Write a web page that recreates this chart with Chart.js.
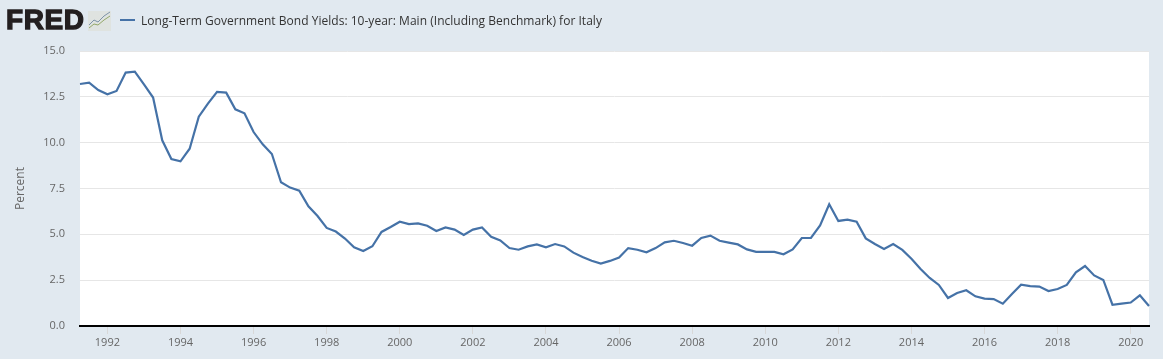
<!DOCTYPE html>
<html>
<head>
<meta charset="utf-8">
<title>Long-Term Government Bond Yields: Italy</title>
<script src="https://cdn.jsdelivr.net/npm/chart.js@4"></script>
<style>
  html, body { margin: 0; padding: 0; background: #e1e9f0; overflow: hidden; }
  #wrap { position: relative; width: 1163px; height: 359px; }
  #logo { position: absolute; left: 6px; top: 5px; font: bold 28px "Liberation Sans", sans-serif; color: #231f20;
          -webkit-text-stroke: 1.3px #231f20; letter-spacing: 0.6px; line-height: 30px; }
  #icon { position: absolute; left: 88px; top: 11px; }
  #swatch { position: absolute; left: 120px; top: 19px; width: 15px; height: 2px; background: #4572a7; }
  #title { position: absolute; left: 141px; top: 12px; font: 12px "Open Sans", sans-serif; letter-spacing: 0.025px; color: #333; line-height: 17px; white-space: nowrap; }
</style>
</head>
<body>
<div id="wrap">
  <div id="logo">FRED</div>
  <svg id="icon" width="23" height="20" viewBox="0 0 23 20">
    <rect width="23" height="20" fill="#dfe3e0"/>
    <polyline points="1,14 6,9 10,11 16,5 22,1" fill="none" stroke="#7d93a8" stroke-width="1"/>
    <polyline points="1,17 6,13 10,14 16,9 22,5" fill="none" stroke="#94a86a" stroke-width="1"/>
  </svg>
  <div id="swatch"></div>
  <div id="title">Long-Term Government Bond Yields: 10-year: Main (Including Benchmark) for Italy</div>
  <canvas id="yieldChart" width="1163" height="359"></canvas>
</div>
<script>
const seriesName = "Long-Term Government Bond Yields: 10-year: Main (Including Benchmark) for Italy";

const quarters = [
  "1991-Q2", "1991-Q3", "1991-Q4",
  "1992-Q1", "1992-Q2", "1992-Q3", "1992-Q4",
  "1993-Q1", "1993-Q2", "1993-Q3", "1993-Q4",
  "1994-Q1", "1994-Q2", "1994-Q3", "1994-Q4",
  "1995-Q1", "1995-Q2", "1995-Q3", "1995-Q4",
  "1996-Q1", "1996-Q2", "1996-Q3", "1996-Q4",
  "1997-Q1", "1997-Q2", "1997-Q3", "1997-Q4",
  "1998-Q1", "1998-Q2", "1998-Q3", "1998-Q4",
  "1999-Q1", "1999-Q2", "1999-Q3", "1999-Q4",
  "2000-Q1", "2000-Q2", "2000-Q3", "2000-Q4",
  "2001-Q1", "2001-Q2", "2001-Q3", "2001-Q4",
  "2002-Q1", "2002-Q2", "2002-Q3", "2002-Q4",
  "2003-Q1", "2003-Q2", "2003-Q3", "2003-Q4",
  "2004-Q1", "2004-Q2", "2004-Q3", "2004-Q4",
  "2005-Q1", "2005-Q2", "2005-Q3", "2005-Q4",
  "2006-Q1", "2006-Q2", "2006-Q3", "2006-Q4",
  "2007-Q1", "2007-Q2", "2007-Q3", "2007-Q4",
  "2008-Q1", "2008-Q2", "2008-Q3", "2008-Q4",
  "2009-Q1", "2009-Q2", "2009-Q3", "2009-Q4",
  "2010-Q1", "2010-Q2", "2010-Q3", "2010-Q4",
  "2011-Q1", "2011-Q2", "2011-Q3", "2011-Q4",
  "2012-Q1", "2012-Q2", "2012-Q3", "2012-Q4",
  "2013-Q1", "2013-Q2", "2013-Q3", "2013-Q4",
  "2014-Q1", "2014-Q2", "2014-Q3", "2014-Q4",
  "2015-Q1", "2015-Q2", "2015-Q3", "2015-Q4",
  "2016-Q1", "2016-Q2", "2016-Q3", "2016-Q4",
  "2017-Q1", "2017-Q2", "2017-Q3", "2017-Q4",
  "2018-Q1", "2018-Q2", "2018-Q3", "2018-Q4",
  "2019-Q1", "2019-Q2", "2019-Q3", "2019-Q4",
  "2020-Q1", "2020-Q2", "2020-Q3"
];

const yields = [
  13.2, 13.27, 12.87,
  12.64, 12.82, 13.82, 13.87,
  13.18, 12.46, 10.13, 9.11,
  8.98, 9.67, 11.42, 12.13,
  12.77, 12.73, 11.82, 11.6,
  10.58, 9.91, 9.38, 7.84,
  7.55, 7.38, 6.53, 6.0,
  5.35, 5.15, 4.77, 4.29,
  4.09, 4.35, 5.13, 5.4,
  5.69, 5.56, 5.6, 5.47,
  5.18, 5.38, 5.26, 4.96,
  5.26, 5.37, 4.87, 4.67,
  4.25, 4.16, 4.34, 4.45,
  4.29, 4.47, 4.34, 4.0,
  3.76, 3.56, 3.4, 3.55,
  3.73, 4.25, 4.16, 4.02,
  4.25, 4.56, 4.65, 4.53,
  4.38, 4.8, 4.93, 4.65,
  4.55, 4.45, 4.18, 4.04,
  4.04, 4.04, 3.91, 4.18,
  4.8, 4.8, 5.49, 6.64,
  5.73, 5.8, 5.69, 4.78,
  4.47, 4.2, 4.47, 4.15,
  3.67, 3.11, 2.62, 2.24,
  1.53, 1.8, 1.95, 1.62,
  1.49, 1.47, 1.22, 1.75,
  2.25, 2.18, 2.15, 1.91,
  2.02, 2.24, 2.93, 3.27,
  2.76, 2.51, 1.16, 1.22,
  1.28, 1.67, 1.09
];

// only January of even years gets a tick
const tickQuarters = ["1992-Q1", "1994-Q1", "1996-Q1", "1998-Q1", "2000-Q1", "2002-Q1", "2004-Q1", "2006-Q1",
  "2008-Q1", "2010-Q1", "2012-Q1", "2014-Q1", "2016-Q1", "2018-Q1", "2020-Q1"];

const tickFont = { family: "'Open Sans', sans-serif", size: 11 };

// white plot background, the canvas itself stays transparent
const plotBackground = {
  id: "plotBackground",
  beforeDraw(chart) {
    const a = chart.chartArea;
    chart.ctx.fillStyle = "#ffffff";
    chart.ctx.fillRect(a.left, a.top, a.right - a.left, a.bottom - a.top);
  }
};

new Chart(document.getElementById("yieldChart"), {
  type: "line",
  plugins: [plotBackground],
  data: {
    labels: quarters,
    datasets: [{
      label: seriesName,
      data: yields,
      borderColor: "#4572a7",
      borderWidth: 2.2,
      pointRadius: 0,
      tension: 0
    }]
  },
  options: {
    responsive: false,
    animation: false,
    events: [],
    layout: { padding: { top: 51, right: 14 } },
    plugins: {
      legend: { display: false },
      tooltip: { enabled: false }
    },
    scales: {
      x: {
        type: "category",
        offset: false,
        afterBuildTicks(scale) {
          scale.ticks = scale.ticks.filter(t => tickQuarters.includes(quarters[t.value]));
        },
        afterFit(scale) { scale.height = 33; },
        border: { color: "#000000", width: 2 },
        grid: { drawOnChartArea: false, drawTicks: true, tickLength: 8, color: "#d8d8d8" },
        ticks: {
          autoSkip: false,
          maxRotation: 0,
          padding: 2,
          color: "#666666",
          font: tickFont,
          callback(value) { return quarters[value].slice(0, 4); }
        }
      },
      y: {
        min: 0,
        max: 15,
        afterFit(scale) { scale.width = 80; },
        border: { display: false },
        grid: { color: "#e6e6e6", lineWidth: 1, drawTicks: false },
        title: {
          display: true,
          text: "Percent",
          color: "#666666",
          font: { family: "'Open Sans', sans-serif", size: 12 },
          padding: { top: 13, bottom: 0 }
        },
        ticks: {
          stepSize: 2.5,
          padding: 15,
          color: "#666666",
          font: tickFont,
          callback(value) { return value.toFixed(1); }
        }
      }
    }
  }
});
</script>
</body>
</html>
